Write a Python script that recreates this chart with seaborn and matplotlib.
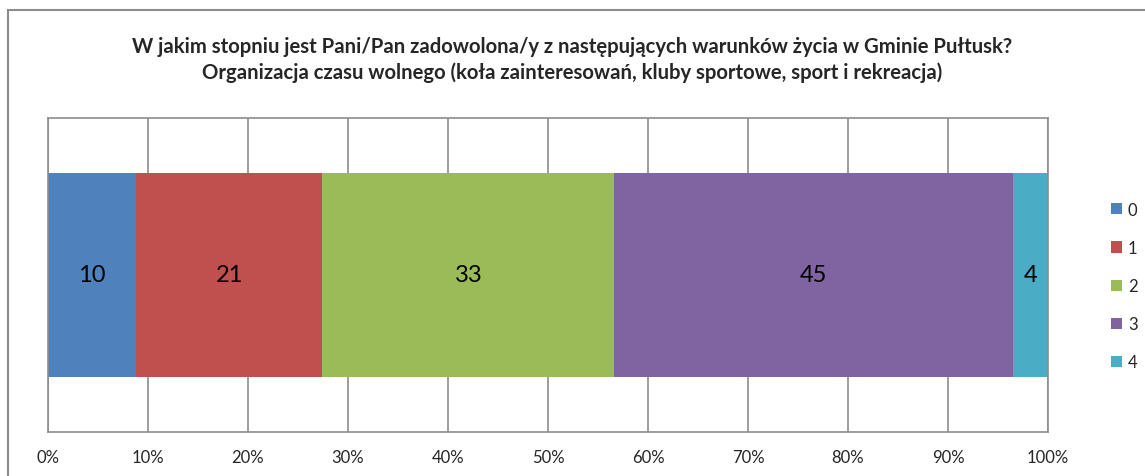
import matplotlib
matplotlib.use("Agg")
import matplotlib.pyplot as plt
from matplotlib.patches import Patch, Rectangle
import seaborn as sns
import numpy as np
import pandas as pd

# --- data ---
categories = ["0", "1", "2", "3", "4"]
counts = [10, 21, 33, 45, 4]
colors = ["#4F81BD", "#C0504D", "#9BBB59", "#8064A2", "#4BACC6"]
title = ("W jakim stopniu jest Pani/Pan zadowolona/y z następujących warunków życia w Gminie Pułtusk?\n"
         "Organizacja czasu wolnego (koła zainteresowań, kluby sportowe, sport i rekreacja)")

sns.set_theme(style="white")
plt.rcParams["font.family"] = ["Lato", "DejaVu Sans"]

total = sum(counts)
shares = np.array(counts) / total
cum = np.cumsum(shares)
left = cum - shares

fig = plt.figure(figsize=(11.45, 4.77), dpi=100)
ax = fig.add_axes([48 / 1145, 44 / 477, 1000 / 1145, 314 / 477])

# stacked 100% bar: draw cumulative totals from the largest down
for i in range(len(categories) - 1, -1, -1):
    df = pd.DataFrame({"share": [cum[i]], "row": ["r"]})
    sns.barplot(data=df, x="share", y="row", orient="h", color=colors[i],
                width=0.65, saturation=1, ax=ax, linewidth=0)

for c, l, s in zip(counts, left, shares):
    ax.text(l + s / 2, 0, str(c), ha="center", va="center", fontsize=17, color="black")

ax.set_xlim(0, 1)
ax.set_ylim(0.5, -0.5)
ax.set_xticks(np.arange(0, 1.01, 0.1))
ax.set_xticklabels([f"{int(round(t * 100))}%" for t in np.arange(0, 1.01, 0.1)], fontsize=12)
ax.tick_params(axis="x", length=0, pad=12)
ax.set_yticks([])
ax.set_xlabel("")
ax.set_ylabel("")
ax.grid(axis="x", color="#8C8C8C", linewidth=1.2)
ax.set_axisbelow(True)
for sp in ax.spines.values():
    sp.set_visible(True)
    sp.set_color("#8C8C8C")
    sp.set_linewidth(1.2)

fig.text(0.5, 1 - 60 / 477, title, ha="center", va="center", fontsize=14.6,
         fontweight="bold", linespacing=1.35)

handles = [Patch(facecolor=c, edgecolor="none") for c in colors]
fig.legend(handles, categories, loc="center left", bbox_to_anchor=(1103 / 1145, 1 - 287 / 477),
           frameon=False, fontsize=12, handlelength=0.65, handleheight=0.65,
           handletextpad=0.35, labelspacing=1.33, borderpad=0)

fig.patches.append(Rectangle((8 / 1145, -0.1), 1.2, 1.1 - 11 / 477,
                             transform=fig.transFigure, fill=False,
                             edgecolor="#8C8C8C", linewidth=1.5))

fig.savefig("out.png", dpi=100)
